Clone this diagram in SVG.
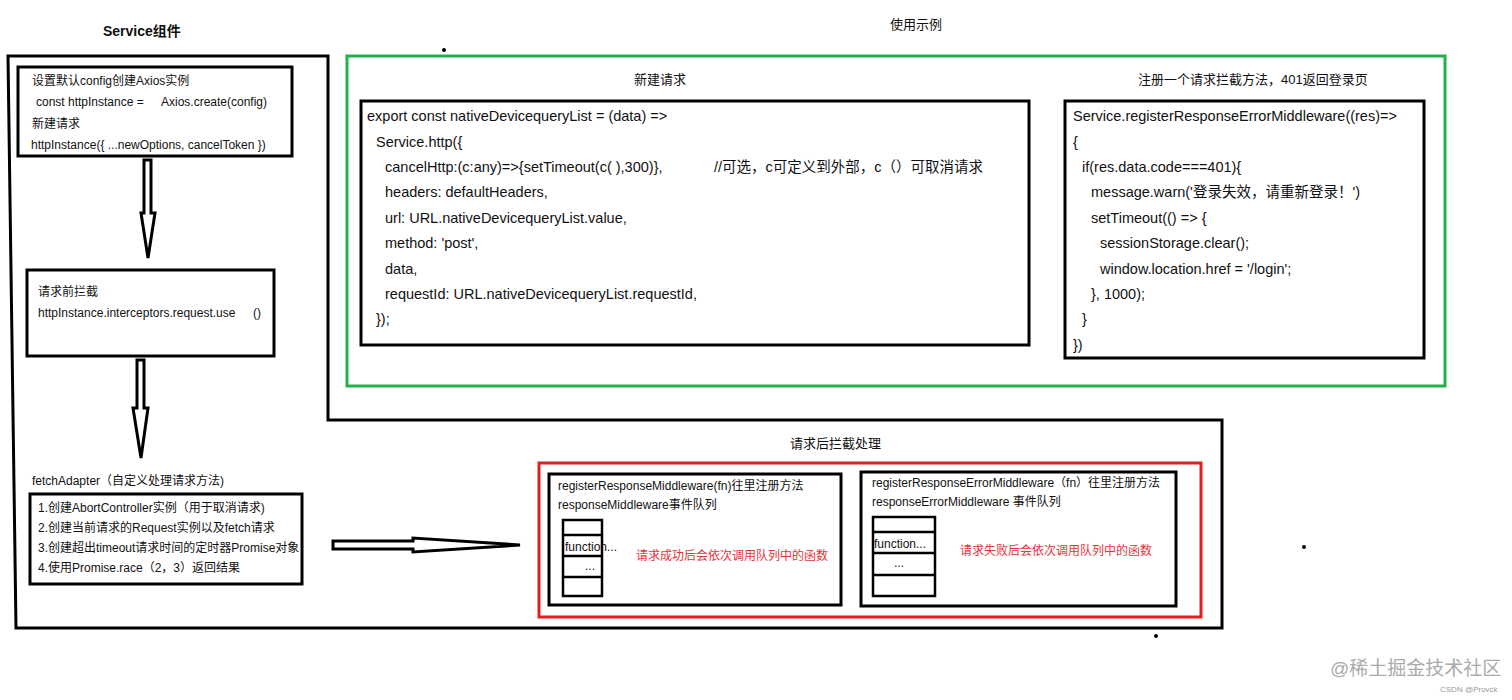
<svg xmlns="http://www.w3.org/2000/svg" width="1512" height="700" viewBox="0 0 1512 700">
<style>
text{font-family:"Liberation Sans","Noto Sans CJK SC",sans-serif;fill:#111;font-size:12px}
.c{font-size:14.5px}
.r{fill:#e8303a}
.bx{fill:#fff;stroke:#000;stroke-width:3}
.q{fill:#fff;stroke:#000;stroke-width:2.5}
.ar{fill:#fff;stroke:#000;stroke-width:3;stroke-linejoin:miter}
</style>
<rect width="1512" height="700" fill="#fff"/>
<g id="frame">
<path d="M8,56 L328,56 L328,420 L1222,420 L1222,628 L16,628 Z" fill="none" stroke="#000" stroke-width="3"/>
<circle cx="444" cy="50" r="2"/><circle cx="1304" cy="547" r="2"/><circle cx="1156" cy="636" r="2"/>
<text x="103" y="36" style="font-weight:bold;font-size:14px">Service组件</text>
<text x="890" y="29" style="font-size:13px">使用示例</text>
</g>
<g id="n1">
<rect class="bx" x="18" y="67" width="274" height="89"/>
<text x="32" y="85">设置默认config创建Axios实例</text>
<text x="36" y="106">const httpInstance =</text>
<text x="161" y="106">Axios.create(config)</text>
<text x="32" y="128">新建请求</text>
<text x="31" y="149">httpInstance({ ...newOptions, cancelToken })</text>
</g>
<g id="n2">
<rect class="bx" x="27" y="270" width="247" height="86"/>
<text x="38" y="296">请求前拦截</text>
<text x="38" y="317">httpInstance.interceptors.request.use</text>
<text x="253" y="317">()</text>
</g>
<g id="n3">
<text x="32" y="485">fetchAdapter（自定义处理请求方法)</text>
<rect class="bx" x="30" y="494" width="272" height="90"/>
<text x="38" y="512">1.创建AbortController实例（用于取消请求)</text>
<text x="38" y="532">2.创建当前请求的Request实例以及fetch请求</text>
<text x="38" y="552">3.创建超出timeout请求时间的定时器Promise对象</text>
<text x="38" y="572">4.使用Promise.race（2，3）返回结果</text>
</g>
<g id="connectors">
<polygon class="ar" points="144,160 151,160 151,213 155,213 148,258 141,213 144,213"/>
<polygon class="ar" points="137,360 144,360 144,408 148,408 141,458 133,408 137,408"/>
<polygon class="ar" points="333,541 413,541 413,538 520,545 413,552 413,549 333,549"/>
</g>
<g id="example">
<rect x="347" y="56" width="1098" height="330" fill="none" stroke="#22b14c" stroke-width="3"/>
<text x="634" y="84" style="font-size:13px">新建请求</text>
<text x="1138" y="84" style="font-size:13px">注册一个请求拦截方法，401返回登录页</text>
</g>
<g id="code1">
<rect class="bx" x="361" y="101" width="668" height="244"/>
<text class="c" x="367" y="121">export const nativeDevicequeryList = (data) =&gt;</text>
<text class="c" x="376" y="147">Service.http({</text>
<text class="c" x="385" y="172">cancelHttp:(c:any)=&gt;{setTimeout(c( ),300)},</text>
<text class="c" x="714" y="172">//可选，c可定义到外部，c（）可取消请求</text>
<text class="c" x="385" y="197">headers: defaultHeaders,</text>
<text class="c" x="385" y="223">url: URL.nativeDevicequeryList.value,</text>
<text class="c" x="385" y="248">method: 'post',</text>
<text class="c" x="385" y="274">data,</text>
<text class="c" x="385" y="299">requestId: URL.nativeDevicequeryList.requestId,</text>
<text class="c" x="376" y="324">});</text>
</g>
<g id="code2">
<rect class="bx" x="1065" y="101" width="359" height="257"/>
<text class="c" x="1073" y="121">Service.registerResponseErrorMiddleware((res)=&gt;</text>
<text class="c" x="1073" y="147">{</text>
<text class="c" x="1082" y="172">if(res.data.code===401){</text>
<text class="c" x="1091" y="197">message.warn('登录失效，请重新登录！')</text>
<text class="c" x="1091" y="223">setTimeout(() =&gt; {</text>
<text class="c" x="1100" y="248">sessionStorage.clear();</text>
<text class="c" x="1100" y="274">window.location.href = '/login';</text>
<text class="c" x="1091" y="299">}, 1000);</text>
<text class="c" x="1082" y="324">}</text>
<text class="c" x="1073" y="350">})</text>
</g>
<g id="after">
<text x="790" y="448" style="font-size:13px">请求后拦截处理</text>
<rect x="539" y="463" width="662" height="154" fill="none" stroke="#e02020" stroke-width="3"/>
</g>
<g id="mw1">
<rect class="bx" x="549" y="474" width="292" height="131"/>
<text x="558" y="490">registerResponseMiddleware(fn)往里注册方法</text>
<text x="558" y="509">responseMiddleware事件队列</text>
<rect class="q" x="563" y="520" width="39" height="76"/>
<path d="M563,535 H603 M563,556 H602 M563,577 H602" stroke="#000" stroke-width="2.5"/>
<text x="565" y="551">function...</text>
<text x="585" y="570">...</text>
<text class="r" x="636" y="560">请求成功后会依次调用队列中的函数</text>
</g>
<g id="mw2">
<rect class="bx" x="861" y="472" width="315" height="134"/>
<text x="872" y="487">registerResponseErrorMiddleware（fn）往里注册方法</text>
<text x="872" y="506">responseErrorMiddleware 事件队列</text>
<rect class="q" x="873" y="517" width="62" height="79"/>
<path d="M873,532 H936 M873,553 H935 M873,575 H935" stroke="#000" stroke-width="2.5"/>
<text x="874" y="548">function...</text>
<text x="894" y="567">...</text>
<text class="r" x="960" y="555">请求失败后会依次调用队列中的函数</text>
</g>
<g id="watermark">
<text x="1330" y="675" style="font-size:19px;fill:#aaa">@稀土掘金技术社区</text>
<text x="1440" y="692" style="font-size:8px;fill:#999">CSDN @Provck</text>
</g>
</svg>
